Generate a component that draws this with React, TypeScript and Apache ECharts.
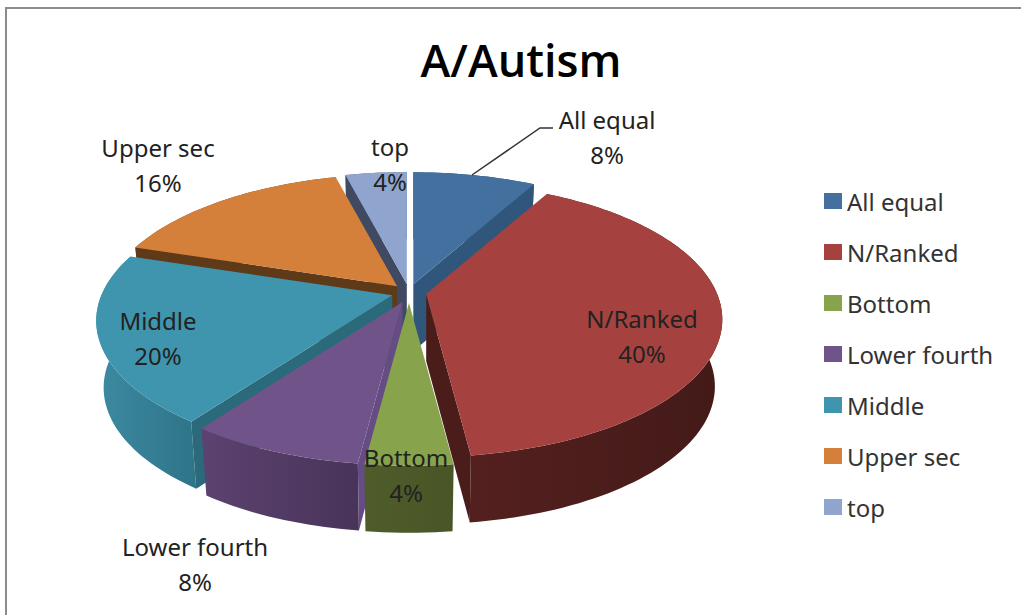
import React, { useEffect, useRef } from "react";
import * as echarts from "echarts";

const chartTitle = "A/Autism";
const categories = ["All equal", "N/Ranked", "Bottom", "Lower fourth", "Middle", "Upper sec", "top"];
const values = [8, 40, 4, 8, 20, 16, 4];

const topColors = ["#44709F", "#A5423F", "#87A34C", "#705489", "#3F95AE", "#D47F3A", "#8FA5CD"];
const cutColors = ["#30567C", "#4A1D1B", "#4D5A28", "#664C85", "#2A6A7A", "#5F3A18", "#3F4A62"];
const wallLeft = ["#30567C", "#54201F", "#4F5C2A", "#5C4270", "#3C8AA2", "#7A4A20", "#5A6A8A"];
const wallRight = ["#30567C", "#431A18", "#495526", "#483459", "#2F7488", "#7A4A20", "#5A6A8A"];

// painter's order, back to front
const drawOrder = [0, 6, 5, 4, 3, 1, 2];
const labelCenters = [[607, 137], [642, 336], [406, 475], [195, 564], [158, 338], [158, 165], [390, 164]];

const CX = 409;
const CY = 292;
const A = 291;
const B = 132.8;
const K = 0.185;
const EXPLODE = 0.06;
const EXPLODE_FRONT = 1.35;
const HEIGHT = 67;
const BOTTOM_SCALE = 0.975;
const FONT = "'Noto Sans'";
const TEXT = "#222222";

const total = values.reduce((a, b) => a + b, 0);

function project(theta: number, r: number) {
  const w = 1 + K * r * Math.cos(theta);
  return [(A * r * Math.sin(theta)) / w, (-B * r * Math.cos(theta)) / w];
}

function sliceChildren(i: number) {
  const before = values.slice(0, i).reduce((a, b) => a + b, 0);
  const t0 = (before / total) * Math.PI * 2;
  const t1 = ((before + values[i]) / total) * Math.PI * 2;
  const mid = (t0 + t1) / 2;
  const off = project(mid, EXPLODE);
  const ax = CX + off[0];
  const ay = CY + (off[1] > 0 ? off[1] * EXPLODE_FRONT : off[1]);
  const steps = Math.max(6, Math.ceil((values[i] / total) * 240));
  const rimTop: number[][] = [];
  for (let s = 0; s <= steps; s++) {
    const p = project(t0 + ((t1 - t0) * s) / steps, 1);
    rimTop.push([ax + p[0], ay + p[1]]);
  }
  const down = (p: number[]) => [ax + (p[0] - ax) * BOTTOM_SCALE, p[1] + HEIGHT];
  const rimBottom = rimTop.map(down);
  const apex = [ax, ay];
  const apexDown = [ax, ay + HEIGHT];
  const children: any[] = [];

  const first = rimTop[0];
  const last = rimTop[rimTop.length - 1];
  children.push({
    type: "polygon",
    shape: { points: [...rimTop, ...rimBottom.slice().reverse()] },
    style: {
      fill: new echarts.graphic.LinearGradient(0, 0, 1, 0, [
        { offset: 0, color: wallLeft[i] },
        { offset: 1, color: wallRight[i] },
      ]),
    },
  });
  // a cut face shows only when its outward normal points to the viewer
  if (Math.sin(t0) < 0) {
    children.push({
      type: "polygon",
      shape: { points: [apex, first, down(first), apexDown] },
      style: { fill: cutColors[i] },
    });
  }
  if (Math.sin(t1) > 0) {
    children.push({
      type: "polygon",
      shape: { points: [apex, last, down(last), apexDown] },
      style: { fill: cutColors[i] },
    });
  }
  children.push({
    type: "polygon",
    shape: { points: [apex, ...rimTop] },
    style: { fill: topColors[i] },
  });
  if (i === 0) {
    children.push({
      type: "polyline",
      shape: { points: [[472, 175], [540, 128], [553, 128]] },
      style: { stroke: "#333333", lineWidth: 1.5, fill: "none" },
    });
  }
  children.push({
    type: "text",
    style: {
      text: `${categories[i]}\n${Math.round((values[i] / total) * 100)}%`,
      x: labelCenters[i][0],
      y: labelCenters[i][1],
      textAlign: "center",
      textVerticalAlign: "middle",
      fontFamily: FONT,
      fontSize: 24,
      lineHeight: 35,
      fill: TEXT,
    },
  });
  return { type: "group", children };
}

export default function App() {
  const ref = useRef<HTMLDivElement>(null);
  useEffect(() => {
    const chart = echarts.init(ref.current!, null, { renderer: "svg" });
    chart.setOption({
      animation: false,
      backgroundColor: "#ffffff",
      title: {
        text: chartTitle,
        left: 516,
        top: 32,
        textAlign: "center",
        textStyle: { fontFamily: "'Open Sans'", fontSize: 45, fontWeight: 600, color: "#000000" },
      },
      legend: {
        orient: "vertical",
        left: 819,
        top: 184,
        itemWidth: 18,
        itemHeight: 16,
        itemGap: 27,
        icon: "rect",
        data: categories,
        selectedMode: false,
        textStyle: { fontFamily: FONT, fontSize: 24, color: "#333333" },
      },
      graphic: [
        {
          type: "polyline",
          shape: { points: [[6, 615], [6, 8], [1021, 8]] },
          style: { stroke: "#8c8c8c", lineWidth: 2, fill: "none" },
        },
      ],
      series: categories.map((name, i) => ({
        type: "custom",
        name,
        coordinateSystem: "none",
        silent: true,
        z: 2 + drawOrder.indexOf(i),
        itemStyle: { color: topColors[i] },
        data: [[values[i]]],
        renderItem: () => sliceChildren(i),
      })),
    });
    return () => chart.dispose();
  }, []);
  return <div ref={ref} style={{ position: "fixed", left: 0, top: 0, width: 1021, height: 615 }} />;
}
